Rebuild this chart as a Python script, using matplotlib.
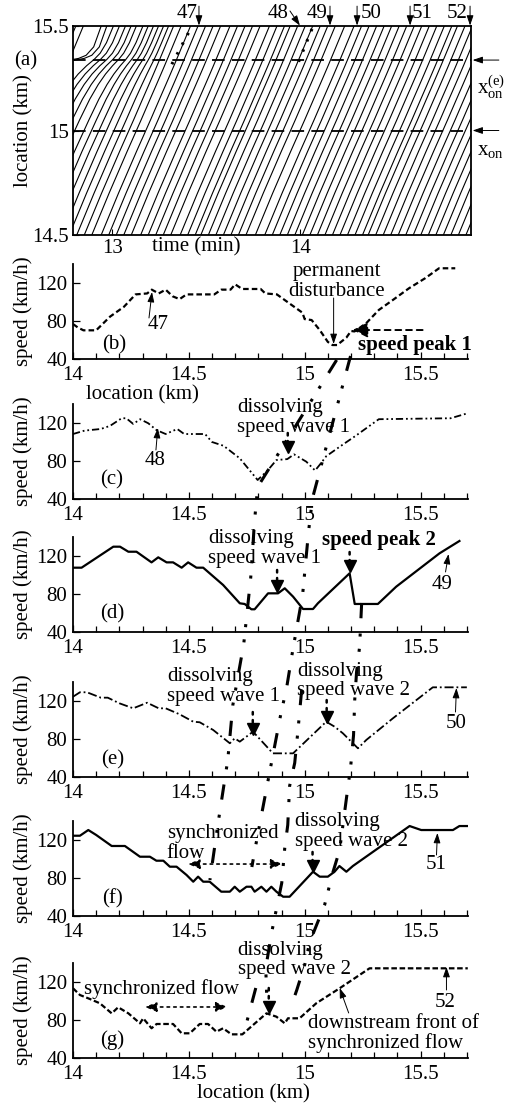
import numpy as np
import matplotlib
matplotlib.use('Agg')
import matplotlib.pyplot as plt
import matplotlib.transforms as mtransforms
from matplotlib.lines import Line2D

plt.rcParams['font.family'] = 'Liberation Serif'
plt.rcParams['font.size'] = 15
plt.rcParams['mathtext.fontset'] = 'custom'
plt.rcParams['mathtext.rm'] = 'Liberation Serif'
plt.rcParams['mathtext.it'] = 'Liberation Serif:italic'
plt.rcParams['mathtext.bf'] = 'Liberation Serif:bold'

# ------------------ (a) vehicle trajectories ------------------
# time (min) at which each vehicle passes 14.5 km
traj_t0 = [12.29, 12.33, 12.37, 12.40, 12.44, 12.48, 12.52, 12.56, 12.61, 12.65,
           12.69, 12.73, 12.77, 12.81, 12.85, 12.89, 12.94, 12.98, 13.02, 13.06,
           13.10, 13.15, 13.19, 13.23, 13.27, 13.31, 13.36, 13.40, 13.44, 13.47,
           13.51, 13.55, 13.59, 13.63, 13.67, 13.71, 13.76, 13.81, 13.85, 13.89,
           13.93, 13.97, 14.01, 14.05, 14.09, 14.13, 14.17, 14.21, 14.25, 14.29,
           14.33, 14.36, 14.40, 14.44, 14.48, 14.52, 14.56, 14.60, 14.64, 14.68,
           14.72, 14.76, 14.80, 14.84, 14.88]
traj_loc = [14.5, 14.7, 14.9, 15.05, 15.15, 15.22, 15.27, 15.31, 15.34, 15.37, 15.42, 15.5]
traj_free_dt = [0, 0.092, 0.188, 0.262, 0.31, 0.344, 0.368, 0.387, 0.401, 0.415, 0.438, 0.475]
traj_jam_share = [0, 0, 0, 0.03, 0.1, 0.22, 0.38, 0.58, 0.78, 0.92, 1.0, 1.0]
# extra delay near the on-ramp for the early vehicles
jam_t0 = [12.37, 12.40, 12.50, 12.60, 12.70, 12.85]
jam_delay = [0.0, 0.13, 0.11, 0.08, 0.05, 0.0]
# vehicles merging from the on-ramp
ramp_t = [12.66, 12.69]
ramp_loc = [15.325, 15.335, 15.345, 15.36, 15.40, 15.5]
ramp_dt = [0, 0.1, 0.16, 0.2, 0.24, 0.28]

x_on = 15.0
x_on_e = 15.337
veh_ids = ['47', '48', '49', '50', '51', '52']
veh_top_t = [13.46, 13.997, 14.157, 14.301, 14.583, 14.902]
veh_text_t = [13.396, 13.88, 14.088, 14.375, 14.646, 14.833]
wave_dots_t = [[13.404, 13.311], [14.061, 13.981]]
wave_dots_loc = [[15.467, 15.309], [15.486, 15.309]]

# ------------------ (b)-(g) speed profiles ------------------
loc_b = [14.00, 14.02, 14.045, 14.10, 14.16, 14.22, 14.27, 14.32, 14.34, 14.37, 14.40, 14.43,
         14.46, 14.49, 14.61, 14.64, 14.68, 14.70, 14.73, 14.81, 14.83, 14.88, 14.94, 14.99,
         15.00, 15.03, 15.065, 15.10, 15.12, 15.14, 15.18, 15.20, 15.215, 15.265, 15.32, 15.38,
         15.45, 15.52, 15.58, 15.65]
spd_b = [76.8, 73.3, 70.2, 70.2, 84.6, 95.0, 108.0, 109.0, 113.0, 109.0, 113.0, 106.0,
         103.0, 108.0, 108.0, 113.0, 113.0, 118.6, 113.7, 113.7, 109.0, 108.0, 97.5, 88.8,
         82.0, 81.0, 70.5, 58.0, 54.7, 54.7, 62.5, 69.5, 69.0, 77.5, 91.6, 102.0,
         114.4, 125.0, 135.5, 135.5]

loc_c = [14.00, 14.05, 14.12, 14.16, 14.21, 14.23, 14.26, 14.29, 14.325, 14.36, 14.40, 14.45,
         14.48, 14.57, 14.60, 14.65, 14.72, 14.797, 14.84, 14.878, 14.925, 14.954, 15.007,
         15.045, 15.065, 15.093, 15.151, 15.223, 15.32, 15.63, 15.70]
spd_c = [108.4, 112.0, 113.7, 117.0, 125.0, 125.0, 119.0, 124.0, 119.7, 112.6, 108.4, 113.7,
         108.4, 108.4, 100.0, 96.0, 82.8, 60.0, 70.0, 81.0, 82.0, 87.0, 79.3,
         70.0, 76.0, 85.0, 95.0, 107.0, 124.0, 125.0, 130.0]

loc_d = [14.00, 14.037, 14.174, 14.203, 14.239, 14.274, 14.339, 14.368, 14.404, 14.432, 14.469,
         14.497, 14.533, 14.562, 14.648, 14.72, 14.741, 14.770, 14.784, 14.842, 14.885, 14.914,
         14.95, 14.993, 15.036, 15.057, 15.194, 15.216, 15.316, 15.395, 15.582, 15.668]
spd_d = [107.7, 107.7, 129.8, 129.8, 124.5, 124.5, 113.3, 118.6, 113.3, 113.3, 107.7,
         113.3, 107.7, 107.7, 89.5, 70.2, 69.5, 63.9, 63.9, 80.7, 80.7, 86.0,
         77.2, 64.2, 64.2, 70.2, 101.8, 69.5, 69.5, 87.7, 122.8, 135.8]

loc_e = [14.00, 14.03, 14.06, 14.12, 14.15, 14.20, 14.26, 14.32, 14.37, 14.40, 14.46, 14.519,
         14.547, 14.605, 14.677, 14.698, 14.72, 14.777, 14.863, 14.95, 15.093, 15.129, 15.165,
         15.23, 15.266, 15.381, 15.553, 15.70]
spd_e = [124.5, 129.2, 129.2, 123.5, 123.5, 117.6, 112.3, 118.2, 112.3, 112.3, 106.0, 98.2,
         97.6, 89.5, 75.5, 80.7, 77.2, 87.7, 64.9, 64.9, 98.2, 93.0, 86.0,
         70.2, 79.0, 101.8, 134.4, 134.4]

loc_f = [14.00, 14.03, 14.066, 14.10, 14.167, 14.224, 14.289, 14.332, 14.36, 14.39, 14.418,
         14.447, 14.49, 14.519, 14.54, 14.562, 14.59, 14.64, 14.677, 14.698, 14.72, 14.749,
         14.77, 14.784, 14.813, 14.835, 14.856, 14.878, 14.907, 14.935, 15.036, 15.065, 15.10,
         15.129, 15.15, 15.18, 15.208, 15.453, 15.503, 15.64, 15.668, 15.704]
spd_f = [124.5, 124.5, 130.5, 125.3, 113.7, 113.7, 102.4, 102.4, 98.2, 98.2, 91.9,
         91.9, 83.2, 76.1, 81.4, 76.1, 76.1, 65.6, 65.6, 70.8, 65.6, 70.8,
         70.8, 65.6, 70.8, 65.6, 70.8, 65.6, 60.3, 60.3, 86.6, 81.4, 81.4,
         86.6, 92.6, 86.6, 92.6, 134.7, 130.5, 130.5, 134.7, 134.7]

loc_g = [14.00, 14.03, 14.073, 14.116, 14.167, 14.195, 14.239, 14.289, 14.303, 14.339, 14.361,
         14.432, 14.469, 14.504, 14.547, 14.583, 14.619, 14.648, 14.684, 14.731, 14.835, 14.878,
         14.914, 14.928, 14.978, 15.05, 15.151, 15.28, 15.704]
spd_g = [113.4, 106.3, 102.1, 97.6, 87.0, 93.4, 87.0, 76.5, 81.8, 71.3, 75.8,
         75.8, 66.0, 66.0, 75.8, 75.8, 67.7, 71.3, 64.9, 64.9, 87.0, 83.5,
         76.5, 81.8, 81.8, 97.6, 113.4, 134.4, 134.4]

# paths of the speed waves drawn across panels (location km, height from figure top)
wave_paths_loc = [
    [15.138, 14.797, 14.784, 14.767, 14.737, 14.690, 14.668, 14.625, 14.591],
    [15.198, 15.034, 15.017, 14.991, 14.948, 14.922, 14.897, 14.849, 14.793, 14.772],
    [14.789, 14.741],
    [14.987, 14.970, 14.957, 14.935, 14.927, 14.914, 14.901, 14.879, 14.858, 14.832, 14.836],
    [15.246, 15.237, 15.224, 15.216, 15.211, 15.198, 15.185, 15.164, 15.151, 15.121, 15.086,
     15.022, 15.0, 14.966, 14.948],
]
wave_paths_top = [
    [0.3258, 0.4407, 0.4706, 0.5231, 0.5828, 0.6380, 0.6878, 0.7466, 0.7964],
    [0.3222, 0.4507, 0.4805, 0.5385, 0.5891, 0.6226, 0.6462, 0.6986, 0.7602, 0.7846],
    [0.8941, 0.9321],
    [0.6244, 0.6633, 0.6905, 0.7113, 0.7466, 0.7674, 0.7991, 0.8217, 0.8434, 0.8760, 0.9005],
    [0.5457, 0.5855, 0.6081, 0.6335, 0.6652, 0.6950, 0.7149, 0.7484, 0.7692, 0.7900, 0.8190,
     0.8525, 0.8733, 0.8959, 0.9068],
]

W, H = 510.0, 1105.0
fig = plt.figure(figsize=(W / 100, H / 100), dpi=100)


def box(left, top, right, bottom):
    return [left / W, 1 - bottom / H, (right - left) / W, (bottom - top) / H]


def thin_arrow(ax, x0, y0, x1, y1):
    ax.annotate('', xy=(x1, y1), xytext=(x0, y0), annotation_clip=False,
                arrowprops=dict(arrowstyle='-|>,head_length=0.5,head_width=0.17', lw=0.7,
                                color='k', mutation_scale=12, shrinkA=0, shrinkB=0))


def wave_mark(ax, x, y_tip, y_top):
    # dotted stem ending in a filled triangle pointing down
    head = mtransforms.ScaledTranslation(0, 4.5 / 72, fig.dpi_scale_trans)
    ax.annotate('', xy=(x, y_tip + 8), xytext=(x, y_top), annotation_clip=False,
                arrowprops=dict(arrowstyle='-', lw=1.8, ls=(0, (1, 2.2)), color='k',
                                shrinkA=0, shrinkB=0))
    ax.plot([x], [y_tip], marker='v', ms=9, color='black', mec='black',
            transform=ax.transData + head, clip_on=False)


def two_way(ax, x0, x1, y):
    ax.annotate('', xy=(x1, y), xytext=(x0, y), annotation_clip=False,
                arrowprops=dict(arrowstyle='<|-|>,head_length=0.5,head_width=0.2', lw=1.2,
                                ls=(0, (1.5, 2.5)), color='k', mutation_scale=14,
                                shrinkA=0, shrinkB=0))


# ------------------ Panel (a) ------------------
ax_a = fig.add_axes(box(73, 26, 471, 235))
for t0 in traj_t0:
    jam = np.interp(t0, jam_t0, jam_delay)
    t = t0 + np.array(traj_free_dt) + jam * np.array(traj_jam_share)
    ax_a.plot(t, traj_loc, color='black', lw=0.8)
for tr in ramp_t:
    ax_a.plot(tr + np.array(ramp_dt), ramp_loc, color='black', lw=0.8)
for y in [x_on, x_on_e]:
    ax_a.axhline(y, color='black', lw=1.3, ls=(0, (7, 4)))
for ts, ls_ in zip(wave_dots_t, wave_dots_loc):
    ax_a.plot(ts, ls_, color='black', lw=2.2, ls=(0, (0.8, 2.8)))
ax_a.set_xlim(12.79, 14.907)
ax_a.set_ylim(14.5, 15.5)
ax_a.set_xticks([13, 14])
ax_a.set_xticklabels(['13', '14'])
ax_a.set_yticks([14.5, 15, 15.5])
ax_a.set_yticklabels(['14.5', '15', '15.5'])
ax_a.tick_params(direction='in', length=4, width=0.8, pad=3)
for sp in ax_a.spines.values():
    sp.set_linewidth(1.3)
ax_a.set_ylabel('location (km)')
ax_a.yaxis.set_label_coords(-0.10, 0.5)
ax_a.text(-0.12, 0.8325, '(a)', transform=ax_a.transAxes, ha='center', va='center')
ax_a.text(0.309, -0.057, 'time (min)', transform=ax_a.transAxes, ha='center', va='center')

for vid, tt, tx in zip(veh_ids, veh_top_t, veh_text_t):
    ax_a.text(tx, 15.562, vid, ha='center', va='center')
    if vid == '48':
        thin_arrow(ax_a, 13.944, 15.572, tt, 15.502)
    else:
        thin_arrow(ax_a, tt, 15.595, tt, 15.502)

for y, lab, ylab in [(x_on_e, r'$\mathrm{x}_{\mathrm{on}}^{(\mathrm{e})}$', 15.205),
                     (x_on, r'$\mathrm{x}_{\mathrm{on}}$', 14.905)]:
    ax_a.annotate('', xy=(1.004, y), xytext=(1.07, y), xycoords=('axes fraction', 'data'),
                  textcoords=('axes fraction', 'data'), annotation_clip=False,
                  arrowprops=dict(arrowstyle='-|>,head_length=0.5,head_width=0.17', lw=0.7,
                                  color='k', mutation_scale=12, shrinkA=0, shrinkB=0))
    ax_a.text(1.015, ylab, lab, transform=mtransforms.blended_transform_factory(
        ax_a.transAxes, ax_a.transData), ha='left', va='center', fontsize=15)

# ------------------ Panels (b)-(g) ------------------
panel_bottoms = [359, 499, 632, 777, 916, 1058]
panel_data = [(loc_b, spd_b, (0, (2.5, 1.4)), 1.6),
              (loc_c, spd_c, (0, (4, 1.6, 1, 1.6, 1, 1.6)), 1.3),
              (loc_d, spd_d, '-', 1.6),
              (loc_e, spd_e, (0, (5, 1.6, 1, 1.6)), 1.3),
              (loc_f, spd_f, '-', 1.6),
              (loc_g, spd_g, (0, (2.5, 1.2)), 1.6)]
axes = []
for bot, (xs, ys, ls_, lw_) in zip(panel_bottoms, panel_data):
    ax = fig.add_axes(box(73, bot - 95, 468, bot))
    ax.plot(xs, ys, color='black', ls=ls_, lw=lw_)
    ax.set_xlim(14, 15.705)
    ax.set_ylim(40, 140)
    ax.set_xticks([14, 14.5, 15, 15.5])
    ax.set_xticklabels(['14', '14.5', '15', '15.5'])
    ax.set_xticks(np.arange(14.1, 15.75, 0.1), minor=True)
    ax.set_yticks([40, 80, 120])
    ax.spines['top'].set_visible(False)
    ax.spines['right'].set_visible(False)
    for sp in ['left', 'bottom']:
        ax.spines[sp].set_linewidth(1.3)
    ax.tick_params(which='major', direction='in', length=5, width=0.9)
    ax.tick_params(axis='x', which='major', pad=5)
    ax.tick_params(axis='y', which='major', pad=4)
    ax.tick_params(which='minor', direction='in', length=4, width=0.9)
    ax.set_ylabel('speed (km/h)')
    ax.yaxis.set_label_coords(-0.10, 0.5)
    ax.patch.set_alpha(0)
    axes.append(ax)
ax_b, ax_c, ax_d, ax_e, ax_f, ax_g = axes

# (b)
ax_b.text(14.177, 54.7, '(b)', ha='center', va='center')
ax_b.text(14.366, 75.8, '47', ha='center', va='center')
thin_arrow(ax_b, 14.328, 83.2, 14.341, 110.5)
ax_b.text(15.138, 121.6, 'permanent\ndisturbance', ha='center', va='center', linespacing=1.05)
thin_arrow(ax_b, 15.125, 104.2, 15.125, 55.8)
ax_b.text(15.474, 54.7, 'speed peak 1', ha='center', va='center', fontweight='bold')
ax_b.annotate('', xy=(15.207, 70.5), xytext=(15.509, 70.5), annotation_clip=False,
              arrowprops=dict(arrowstyle='-|>,head_length=0.6,head_width=0.3', lw=1.4,
                              ls=(0, (3, 2.5)), color='k', mutation_scale=15,
                              shrinkA=0, shrinkB=0))
ax_b.text(0.177, -0.38, 'location (km)', transform=ax_b.transAxes, ha='center', va='center')

# (c)
ax_c.text(14.168, 60, '(c)', ha='center', va='center')
ax_c.text(14.353, 81, '48', ha='center', va='center')
thin_arrow(ax_c, 14.358, 91.6, 14.366, 114.7)
ax_c.text(14.707, 125.8, 'dissolving\nspeed wave 1', ha='left', va='center', linespacing=1.05)
wave_mark(ax_c, 14.927, 88.4, 109.5)

# (d)
ax_d.text(14.168, 58.9, '(d)', ha='center', va='center')
ax_d.text(14.582, 127.9, 'dissolving\nspeed wave 1', ha='left', va='center', linespacing=1.05)
ax_d.text(15.319, 136.8, 'speed peak 2', ha='center', va='center', fontweight='bold')
wave_mark(ax_d, 14.881, 82.1, 105.3)
wave_mark(ax_d, 15.194, 103.2, 124.2)
ax_d.text(15.595, 90.5, '49', ha='center', va='center')
thin_arrow(ax_d, 15.608, 103.2, 15.621, 122.1)

# (e)
ax_e.text(14.172, 57.9, '(e)', ha='center', va='center')
ax_e.text(14.405, 135.3, 'dissolving\nspeed wave 1', ha='left', va='center', linespacing=1.05)
ax_e.text(14.966, 141.0, 'dissolving\nspeed wave 2', ha='left', va='center', linespacing=1.05)
wave_mark(ax_e, 14.776, 84.2, 108.4)
wave_mark(ax_e, 15.095, 96.8, 121.0)
ax_e.text(15.655, 96.8, '50', ha='center', va='center')
thin_arrow(ax_e, 15.651, 108.4, 15.655, 133.7)

# (f)
ax_f.text(14.172, 57.9, '(f)', ha='center', va='center')
ax_f.text(14.405, 116.3, 'synchronized\nflow', ha='left', va='center', linespacing=1.05)
two_way(ax_f, 14.496, 14.905, 94.7)
ax_f.text(14.957, 129.0, 'dissolving\nspeed wave 2', ha='left', va='center', linespacing=1.05)
wave_mark(ax_f, 15.034, 86.3, 107.4)
ax_f.text(15.569, 93.9, '51', ha='center', va='center')
thin_arrow(ax_f, 15.569, 104.2, 15.573, 127.4)

# (g)
ax_g.text(14.168, 58.9, '(g)', ha='center', va='center')
ax_g.text(14.384, 112.6, 'synchronized flow', ha='center', va='center')
two_way(ax_g, 14.310, 14.668, 93.7)
ax_g.text(14.711, 143.2, 'dissolving\nspeed wave 2', ha='left', va='center', linespacing=1.05)
wave_mark(ax_g, 14.845, 87.4, 113.7)
ax_g.text(15.608, 98.9, '52', ha='center', va='center')
thin_arrow(ax_g, 15.612, 111.6, 15.612, 135.8)
ax_g.text(15.013, 65.8, 'downstream front of\nsynchronized flow', ha='left', va='center',
          linespacing=1.05)
thin_arrow(ax_g, 15.19, 87.4, 15.151, 113.7)
ax_g.text(0.456, -0.38, 'location (km)', transform=ax_g.transAxes, ha='center', va='center')

# speed-wave paths across the panels
trans = mtransforms.blended_transform_factory(ax_b.transData, fig.transFigure)
for xs, tops in zip(wave_paths_loc, wave_paths_top):
    fig.add_artist(Line2D(xs, [1 - v for v in tops], transform=trans, color='black',
                          lw=2.2, ls=(0, (5, 5, 1, 4, 1, 5)), zorder=10))

fig.savefig('out.png', dpi=100)
